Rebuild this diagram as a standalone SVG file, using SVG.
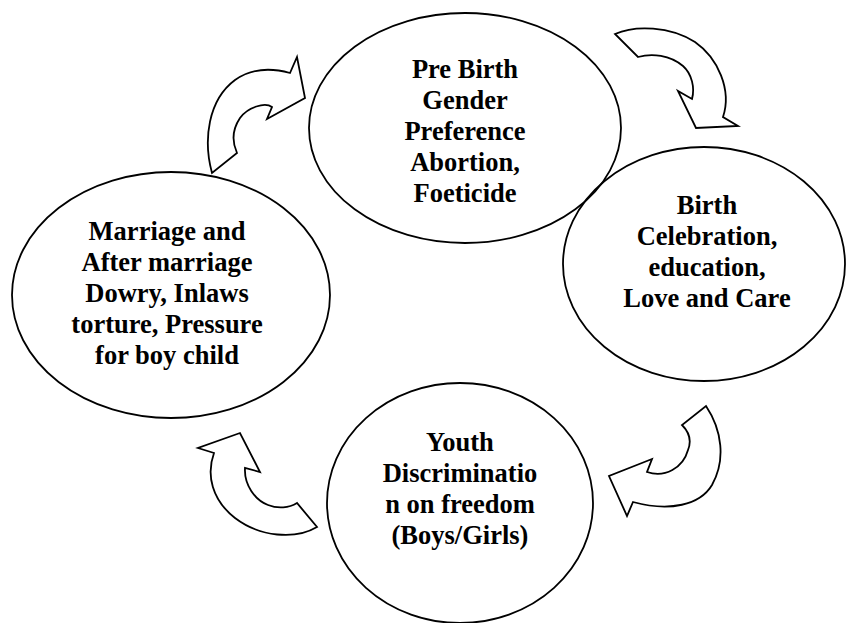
<svg xmlns="http://www.w3.org/2000/svg" width="846" height="623" viewBox="0 0 846 623">
<style>
.node ellipse{fill:none;stroke:#000;stroke-width:1.8}
.node text{font-family:"Liberation Serif","Times New Roman",serif;font-weight:bold;font-size:26.5px;fill:#000;text-anchor:middle}
.arrow{fill:#fff;stroke:#000;stroke-width:1.8;stroke-linejoin:miter}
</style>
<rect width="846" height="623" fill="#fff"/>
<g id="connectors">
<path class="arrow" d="M212,173 C203,140 208,100 235,80 C252,68 272,68 290,73 L297,57 L305,98 L267,119 L272,107 C265,102 248,107 240,118 C232,130 232,142 237,153 Z"/>
<path class="arrow" d="M615,34 C635,25 670,26 695,42 C718,58 732,90 723,117 L738,126 L696,128 L678,91 L692,99 C695,88 692,74 683,66 C670,55 652,53 638,57 Z"/>
<path class="arrow" d="M706,406 C722,430 726,460 712,485 C700,505 670,512 633,502 L627,516 L609,476 L652,459 L647,472 C665,478 683,468 688,450 C692,440 689,432 682,425 Z"/>
<path class="arrow" d="M317,527 C295,540 260,537 235,518 C212,500 206,475 214,453 L198,448 L240,433 L260,472 L245,468 C244,485 255,500 268,505 C278,509 289,508 297,503 Z"/>
</g>
<g id="prebirth" class="node">
<ellipse cx="465" cy="128" rx="156" ry="115"/>
<text x="465" y="78">Pre Birth</text>
<text x="465" y="109">Gender</text>
<text x="465" y="140">Preference</text>
<text x="465" y="171">Abortion,</text>
<text x="465" y="202">Foeticide</text>
</g>
<g id="birth" class="node">
<ellipse cx="704" cy="264" rx="141" ry="117"/>
<text x="707" y="214">Birth</text>
<text x="707" y="245">Celebration,</text>
<text x="707" y="276">education,</text>
<text x="707" y="307">Love and Care</text>
</g>
<g id="youth" class="node">
<ellipse cx="460" cy="503" rx="133" ry="120"/>
<text x="460" y="451">Youth</text>
<text x="460" y="482">Discriminatio</text>
<text x="460" y="513">n on freedom</text>
<text x="460" y="544">(Boys/Girls)</text>
</g>
<g id="marriage" class="node">
<ellipse cx="171" cy="295" rx="159" ry="123"/>
<text x="167" y="240">Marriage and</text>
<text x="167" y="271">After marriage</text>
<text x="167" y="302">Dowry, Inlaws</text>
<text x="167" y="333">torture, Pressure</text>
<text x="167" y="364">for boy child</text>
</g>
</svg>
